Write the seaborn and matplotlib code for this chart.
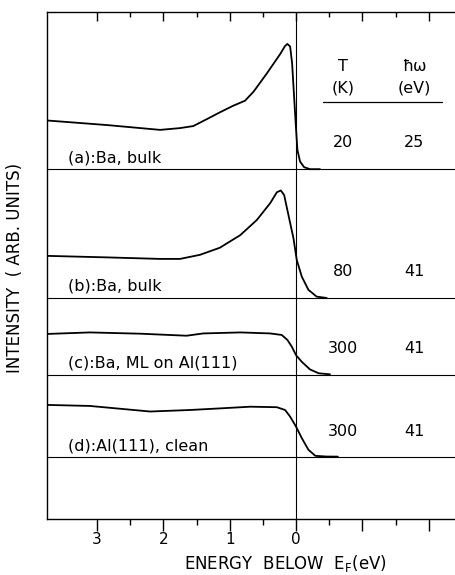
import matplotlib
matplotlib.use("Agg")
import numpy as np
import pandas as pd
import seaborn as sns
import matplotlib.pyplot as plt

# ---- data (energy below E_F in eV, intensity above baseline, arb. units)
energy_a = [3.75, 2.85, 2.05, 1.75, 1.55, 1.34, 1.15, 0.95, 0.77, 0.64, 0.44, 0.24, 0.166, 0.131,
            0.09, 0.06, 0.03, 0.0, -0.02, -0.06, -0.12, -0.21, -0.36]
intens_a = [9.6, 8.7, 7.75, 8.1, 8.5, 9.9, 11.2, 12.5, 13.5, 15.3, 18.9, 22.7, 24.3, 24.7,
            24.2, 20.9, 14.3, 7.75, 3.8, 1.5, 0.4, 0.0, 0.0]

energy_b = [3.75, 2.85, 2.05, 1.75, 1.45, 1.15, 0.84, 0.59, 0.39, 0.29, 0.23, 0.18, 0.116,
            0.04, -0.01, -0.086, -0.186, -0.31, -0.46]
intens_b = [8.3, 8.0, 7.7, 7.7, 8.5, 9.9, 12.4, 15.4, 18.7, 20.85, 21.2, 20.3, 16.4,
            11.8, 7.5, 4.2, 1.6, 0.26, 0.0]

energy_c = [3.75, 3.11, 2.35, 1.65, 1.40, 0.84, 0.39, 0.216, 0.13, 0.065, 0.0, -0.086, -0.21,
            -0.34, -0.51]
intens_c = [8.1, 8.4, 8.15, 7.75, 8.2, 8.4, 8.2, 7.9, 6.9, 5.6, 3.9, 2.6, 1.1, 0.34, 0.14]

energy_d = [3.75, 3.11, 2.20, 1.60, 1.10, 0.69, 0.29, 0.166, 0.09, 0.0, -0.086, -0.186, -0.29,
            -0.46, -0.63]
intens_d = [10.3, 10.1, 9.0, 9.3, 9.65, 9.95, 9.85, 9.3, 8.0, 6.0, 3.75, 1.45, 0.26, 0.12, 0.1]

spectra = ["a", "b", "c", "d"]
baselines = [69.0, 43.6, 28.4, 12.2]
labels = ["(a):Ba, bulk", "(b):Ba, bulk", "(c):Ba, ML on Al(111)", "(d):Al(111), clean"]
temps = ["20", "80", "300", "300"]
photon = ["25", "41", "41", "41"]

xticks_major = [3, 2, 1, 0, -1, -2]
xtick_labels = ["3", "2", "1", "0", "", ""]
xticks_minor = [2.5, 1.5, 0.5, -0.5, -1.5]

# ---- build long table
rows = []
for name, base, e, i in zip(spectra, baselines,
                            [energy_a, energy_b, energy_c, energy_d],
                            [intens_a, intens_b, intens_c, intens_d]):
    for ee, ii in zip(e, i):
        rows.append({"spectrum": name, "energy": ee, "y": base + ii})
df = pd.DataFrame(rows)

sns.set_theme(style="white")
plt.rcParams["font.family"] = ["DejaVu Sans"]
plt.rcParams["mathtext.default"] = "regular"
plt.rcParams["text.color"] = "black"
plt.rcParams["axes.labelcolor"] = "black"
plt.rcParams["xtick.color"] = "black"
plt.rcParams["ytick.color"] = "black"

W, H = 456, 575
fig = plt.figure(figsize=(W / 100, H / 100), dpi=100)
ax = fig.add_axes([47 / W, (H - 519) / H, (W - 47) / W, (519 - 12) / H])

sns.lineplot(data=df, x="energy", y="y", units="spectrum", estimator=None,
             sort=False, color="black", linewidth=1.3, ax=ax, legend=False)

for base in baselines:
    ax.axhline(base, color="black", linewidth=0.8)
ax.axvline(0, color="black", linewidth=0.8)

ax.set_xlim(3.754, -2.41)
ax.set_ylim(0, 100)
ax.set_yticks([])

for s in ["left", "bottom", "top"]:
    ax.spines[s].set_color("black")
    ax.spines[s].set_linewidth(1.0)
ax.spines["right"].set_visible(False)

ax.set_xticks(xticks_major)
ax.set_xticklabels(xtick_labels, fontsize=11)
ax.set_xticks(xticks_minor, minor=True)
ax.tick_params(axis="x", which="major", direction="out", length=8.5, width=1.0,
               color="black", pad=1, bottom=True, top=False)
ax.tick_params(axis="x", which="minor", direction="out", length=4.5, width=1.0,
               color="black", bottom=True, top=False)

top = ax.secondary_xaxis("top")
top.set_xticks(xticks_major)
top.set_xticklabels([])
top.set_xticks(xticks_minor, minor=True)
top.tick_params(axis="x", which="major", direction="in", length=6.5, width=1.0, color="black")
top.tick_params(axis="x", which="minor", direction="in", length=3.6, width=1.0, color="black")
top.spines["top"].set_visible(False)

ax.set_xlabel("ENERGY  BELOW  E$_F$(eV)", fontsize=12, va="center")
ax.xaxis.set_label_coords((285 - 47) / 409, (519 - 564) / 507)
ax.set_ylabel("INTENSITY  ( ARB. UNITS)", fontsize=12, va="center")
ax.yaxis.set_label_coords((15 - 47) / 409, (519 - 268) / 507)

# curve labels and table
col_T, col_hw = -0.71, -1.78
row_y = [74.2, 48.9, 33.7, 17.2]
for base, lab, t, p, ry in zip(baselines, labels, temps, photon, row_y):
    ax.text(3.44, base + 0.8, lab, fontsize=11.5, ha="left", va="bottom")
    ax.text(col_T, ry, t, fontsize=11.5, ha="center", va="center")
    ax.text(col_hw, ry, p, fontsize=11.5, ha="center", va="center")

ax.text(col_T, 89.2, "T", fontsize=11.5, ha="center", va="center")
ax.text(col_T, 85.0, "(K)", fontsize=11.5, ha="center", va="center")
ax.text(col_hw, 89.2, "ħω", fontsize=11.5, ha="center", va="center")
ax.text(col_hw, 85.0, "(eV)", fontsize=11.5, ha="center", va="center")
ax.plot([-0.41, -2.20], [82.2, 82.2], color="black", linewidth=0.9)

fig.savefig("out.png", dpi=100, facecolor="white")
